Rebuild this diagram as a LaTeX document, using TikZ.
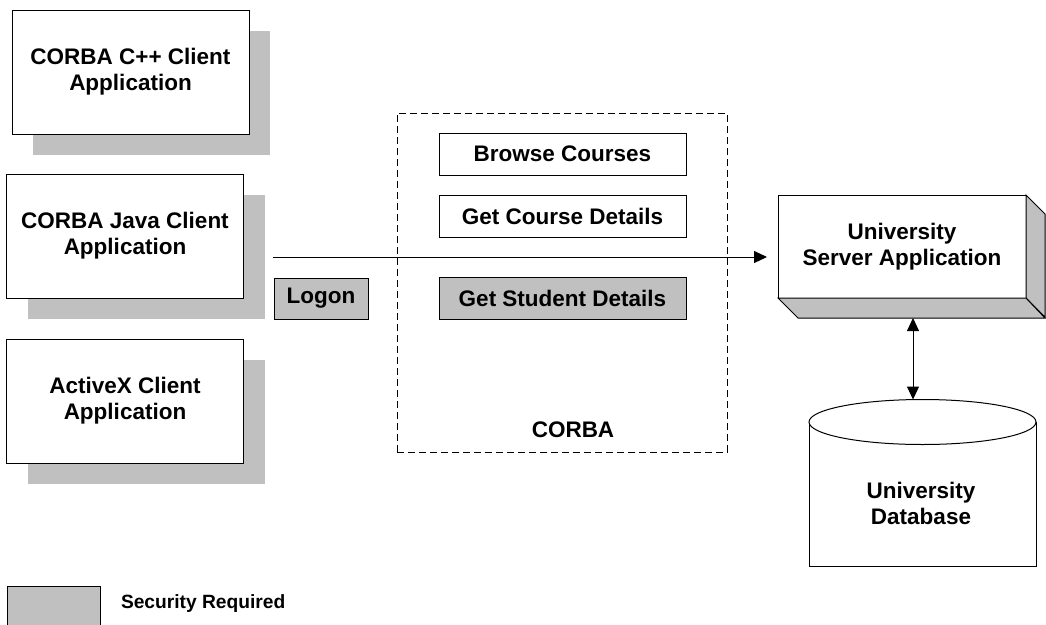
\documentclass[tikz,border=0pt]{standalone}
\usepackage{fontspec}
\setmainfont{Liberation Sans}
\usetikzlibrary{arrows.meta,shadows}
\definecolor{shade}{RGB}{192,192,192}
\begin{document}
\begin{tikzpicture}[x=1pt,y=-1pt,
  every node/.style={font=\fontsize{22.5}{26}\selectfont\bfseries, align=center, inner sep=0pt, outer sep=0pt},
  client/.style={draw, line width=1pt, fill=white, minimum width=237pt, minimum height=124pt,
    drop shadow={shadow xshift=21pt, shadow yshift=-21pt, fill=shade, opacity=1}},
  opbox/.style={draw, line width=1pt, fill=white, minimum width=247pt, minimum height=42pt},
  secure/.style={fill=shade},
  face/.style={draw, line width=1pt, fill=shade, line join=miter},
  tip/.style={Triangle[length=13pt,width=12pt]},
  conn/.style={line width=1pt},
]
\useasboundingbox (0,0) rectangle (1046,624);

% clients
\node[client] (c1) at (130.5,72) {CORBA C++ Client\\Application};
\node[client] (c2) at (125,236) {CORBA Java Client\\Application};
\node[client] (c3) at (125,401) {ActiveX Client\\Application};

% logon
\node[opbox, secure, minimum width=94pt, minimum height=41pt] (logon) at (321,298.5) {Logon};

% CORBA region
\node[draw, line width=0.9pt, dash pattern=on 7pt off 4pt, minimum width=330pt, minimum height=339pt] (corba) at (562,282.5) {};
\node (corbalbl) at (573,430) {CORBA};
\node[opbox] (browse) at (562.5,154) {Browse Courses};
\node[opbox] (course) at (562.5,216) {Get Course Details};
\node[opbox, secure] (student) at (562.5,298.5) {Get Student Details};

% server
\node[draw, line width=1pt, fill=white, minimum width=248pt, minimum height=103pt] (srv) at (902,246.5) {University\\Server Application};
\path[face] (srv.north east) -- ++(19,19) -- ++(0,103) -- (srv.south east) -- cycle;
\path[face] (srv.south west) -- ++(20,20) -- ++(247,0) -- (srv.south east) -- cycle;

% database
\draw[line width=1pt] (809,422) -- (809,566) -- (1036,566) -- (1036,422);
\draw[line width=1pt, fill=white] (922.5,422) ellipse [x radius=113.5, y radius=22.5];
\node (db) at (921,503) {University\\Database};

% connectors
\coordinate (a0) at (273,257);
\coordinate (a1) at (767,257);
\draw[conn, -{Triangle[length=13pt,width=12pt]}] (a0) -- (a1);
\coordinate (srvb) at (913,318);
\coordinate (dbtop) at (913,399.5);
\draw[conn, {Triangle[length=13pt,width=12pt]}-{Triangle[length=13pt,width=12pt]}] (srvb) -- (dbtop);

% legend
\node[draw, line width=1pt, fill=shade, minimum width=93pt, minimum height=42pt] (leg) at (53.5,607) {};
\node[anchor=west, font=\fontsize{19.2}{22}\selectfont\bfseries] (legtxt) at (121,604) {Security Required};
\end{tikzpicture}
\end{document}
